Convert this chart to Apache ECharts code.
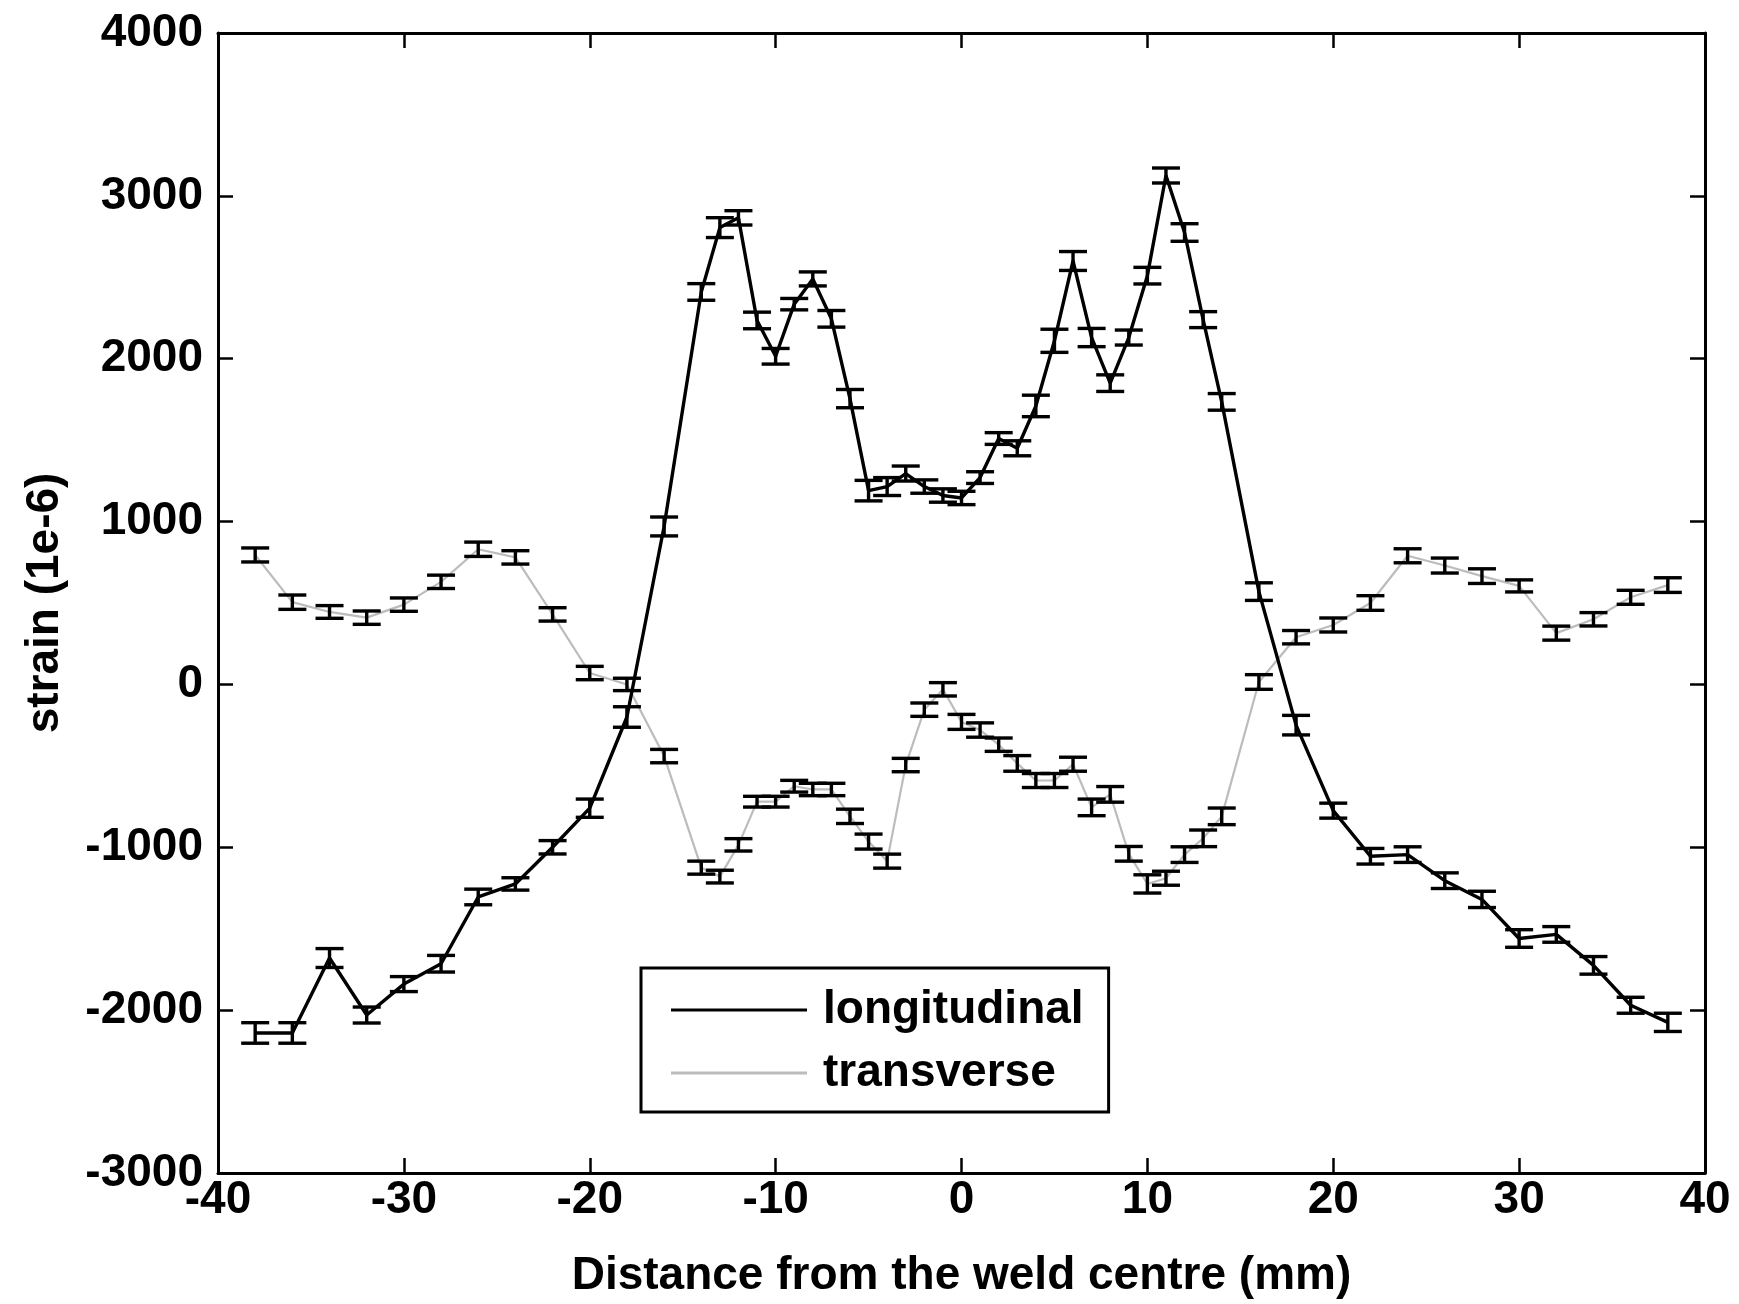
<!DOCTYPE html>
<html>
<head>
<meta charset="utf-8">
<title>Strain across the weld</title>
<script src="https://cdn.jsdelivr.net/npm/echarts@6/dist/echarts.min.js"></script>
<style>
  html, body { margin: 0; padding: 0; background: #fff; }
  #chart { width: 1739px; height: 1304px; }
</style>
</head>
<body>
<div id="chart"></div>
<script>
// Measurement positions (mm from the weld centre)
const positions = [-38, -36, -34, -32, -30, -28, -26, -24, -22, -20, -18, -16,
  -14, -13, -12, -11, -10, -9, -8, -7, -6, -5, -4, -3, -2, -1, 0, 1, 2, 3, 4, 5, 6, 7, 8, 9, 10, 11, 12, 13, 14,
  16, 18, 20, 22, 24, 26, 28, 30, 32, 34, 36, 38];

// Longitudinal strain (1e-6) and its uncertainty
const longitudinal = [-2140, -2140, -1680, -2030, -1840, -1715, -1305, -1225, -1000, -760, -200, 970,
  2410, 2805, 2865, 2235, 2015, 2335, 2490, 2245, 1755, 1190, 1215, 1295, 1215, 1160, 1145, 1270, 1510, 1450,
  1710, 2110, 2600, 2130, 1850, 2130, 2510, 3125, 2775, 2240, 1735,
  570, -250, -775, -1055, -1045, -1205, -1320, -1560, -1535, -1725, -1970, -2075];
const longitudinalErr = [63, 63, 58, 49, 46, 51, 48, 38, 41, 56, 63, 58,
  51, 61, 44, 51, 48, 35, 43, 51, 56, 63, 55, 46, 41, 41, 41, 36, 36, 46,
  66, 71, 58, 56, 51, 46, 51, 46, 54, 49, 51,
  54, 60, 46, 48, 48, 48, 50, 54, 48, 54, 49, 56];

// Transverse strain (1e-6) and its uncertainty
const transverse = [795, 505, 445, 410, 490, 630, 830, 780, 430, 70, 0, -440,
  -1125, -1180, -985, -720, -720, -625, -645, -645, -810, -965, -1085, -495, -155, -30, -230, -280, -370, -485,
  -590, -590, -490, -755, -675, -1040, -1225, -1190, -1045, -945, -810,
  15, 290, 365, 500, 790, 730, 665, 605, 315, 400, 535, 610];
const transverseErr = [43, 44, 39, 41, 41, 41, 44, 41, 41, 41, 38, 41,
  40, 39, 38, 33, 33, 36, 38, 38, 44, 46, 43, 41, 41, 41, 46, 44, 41, 48,
  43, 43, 43, 51, 48, 45, 56, 43, 48, 51, 51,
  45, 41, 43, 45, 43, 46, 45, 37, 43, 41, 43, 45];

// Axis ticks
const xTicks = { min: -40, max: 40, step: 10 };
const yTicks = { min: -3000, max: 4000, step: 1000 };

const FONT = '"Liberation Sans", Arial, Helvetica, sans-serif';
const pairs = (ys) => positions.map((x, i) => [x, ys[i]]);
const bars = (ys, es) => positions.map((x, i) => [x, ys[i] - es[i], ys[i] + es[i]]);

function renderErrorBar(params, api) {
  const x = api.value(0);
  const lo = api.coord([x, api.value(1)]);
  const hi = api.coord([x, api.value(2)]);
  const hw = 14;
  const style = { stroke: '#000', lineWidth: 3.4 };
  return {
    type: 'group',
    children: [
      { type: 'line', shape: { x1: hi[0], y1: hi[1], x2: lo[0], y2: lo[1] }, style },
      { type: 'line', shape: { x1: hi[0] - hw, y1: hi[1], x2: hi[0] + hw, y2: hi[1] }, style },
      { type: 'line', shape: { x1: lo[0] - hw, y1: lo[1], x2: lo[0] + hw, y2: lo[1] }, style }
    ]
  };
}

const labelStyle = { color: '#000', fontFamily: FONT, fontWeight: 'bold', fontSize: 46 };
const frameLine = { show: true, onZero: false, lineStyle: { color: '#000', width: 3 } };
const innerTick = { show: true, inside: true, length: 15, lineStyle: { color: '#000', width: 2.5 } };
const plainNumber = (v) => String(v);

const chart = echarts.init(document.getElementById('chart'), null, { renderer: 'canvas' });
chart.setOption({
  backgroundColor: '#fff',
  animation: false,
  grid: { left: 218, right: 34, top: 33, bottom: 127, containLabel: false },
  legend: {
    data: [
      { name: 'longitudinal', icon: 'rect' },
      { name: 'transverse', icon: 'rect' }
    ],
    orient: 'vertical',
    left: 641,
    top: 968,
    backgroundColor: '#fff',
    borderColor: '#000',
    borderWidth: 3,
    borderRadius: 0,
    padding: [19, 25, 16, 30],
    itemWidth: 136,
    itemHeight: 3,
    itemGap: 17,
    textStyle: Object.assign({ lineHeight: 46, padding: [0, 0, 0, 11] }, labelStyle)
  },
  xAxis: [
    {
      type: 'value', min: xTicks.min, max: xTicks.max, interval: xTicks.step,
      name: 'Distance from the weld centre (mm)', nameLocation: 'middle', nameGap: 80,
      nameTextStyle: labelStyle,
      axisLine: frameLine, axisTick: innerTick,
      axisLabel: Object.assign({ margin: 4, formatter: plainNumber }, labelStyle),
      splitLine: { show: false }
    },
    {
      type: 'value', position: 'top', min: xTicks.min, max: xTicks.max, interval: xTicks.step,
      axisLine: frameLine, axisTick: innerTick,
      axisLabel: { show: false }, splitLine: { show: false }
    }
  ],
  yAxis: [
    {
      type: 'value', min: yTicks.min, max: yTicks.max, interval: yTicks.step,
      name: 'strain (1e-6)', nameLocation: 'middle', nameRotate: 90, nameGap: 150,
      nameTextStyle: labelStyle,
      axisLine: frameLine, axisTick: innerTick,
      axisLabel: Object.assign({ margin: 15, formatter: plainNumber }, labelStyle),
      splitLine: { show: false }
    },
    {
      type: 'value', position: 'right', min: yTicks.min, max: yTicks.max, interval: yTicks.step,
      axisLine: frameLine, axisTick: innerTick,
      axisLabel: { show: false }, splitLine: { show: false }
    }
  ],
  series: [
    {
      name: 'transverse', type: 'line', data: pairs(transverse),
      symbol: 'none', z: 2,
      lineStyle: { color: '#bcbcbc', width: 2.2 },
      itemStyle: { color: '#bcbcbc' }
    },
    {
      name: 'longitudinal', type: 'line', data: pairs(longitudinal),
      symbol: 'none', z: 3,
      lineStyle: { color: '#000', width: 3.4 },
      itemStyle: { color: '#000' }
    },
    {
      type: 'custom', renderItem: renderErrorBar, data: bars(transverse, transverseErr),
      encode: { x: 0, y: [1, 2] }, z: 4, silent: true
    },
    {
      type: 'custom', renderItem: renderErrorBar, data: bars(longitudinal, longitudinalErr),
      encode: { x: 0, y: [1, 2] }, z: 4, silent: true
    }
  ]
});
</script>
</body>
</html>
